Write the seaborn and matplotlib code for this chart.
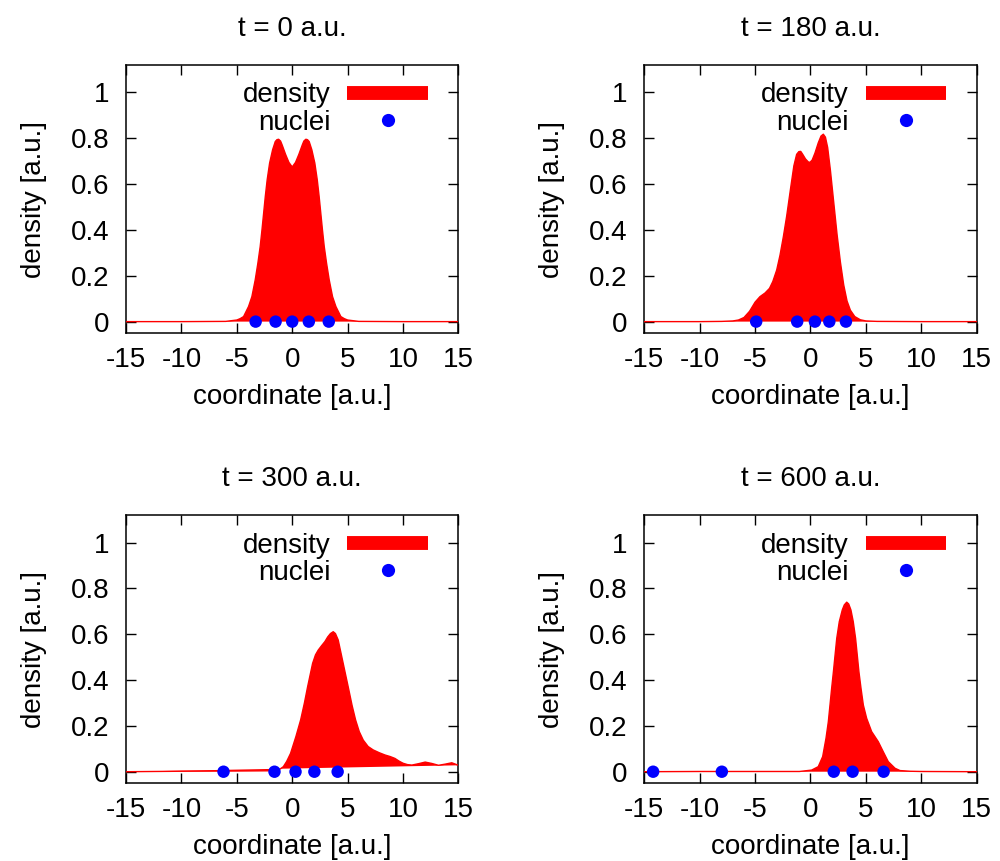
import matplotlib
matplotlib.use("Agg")
import matplotlib.pyplot as plt
from matplotlib.lines import Line2D
import seaborn as sns
import pandas as pd

# ---------------- data ----------------
titles = ["t = 0 a.u.", "t = 180 a.u.", "t = 300 a.u.", "t = 600 a.u."]

x_t0 = [-15, -10, -6, -5.0, -4.7, -4.39, -3.94, -3.64, -3.34, -3.1, -2.89, -2.73, -2.58, -2.43,
        -2.26, -2.04, -1.77, -1.53, -1.38, -1.23, -1.05, -0.9, -0.6, -0.3, 0.0,
        0.3, 0.6, 0.9, 1.05, 1.23, 1.38, 1.53, 1.77, 2.04, 2.26, 2.43, 2.58, 2.73, 2.89, 3.1,
        3.34, 3.64, 3.94, 4.39, 4.7, 5.0, 6, 10, 15]
d_t0 = [0.0, 0.0, 0.001, 0.007, 0.013, 0.022, 0.066, 0.109, 0.182, 0.255, 0.328, 0.40, 0.473, 0.546,
        0.619, 0.692, 0.75, 0.786, 0.794, 0.796, 0.788, 0.77, 0.73, 0.695, 0.675,
        0.695, 0.73, 0.77, 0.788, 0.796, 0.794, 0.786, 0.75, 0.692, 0.619, 0.546, 0.473, 0.40,
        0.328, 0.255, 0.182, 0.109, 0.066, 0.022, 0.013, 0.007, 0.001, 0.0, 0.0]
n_t0 = [-3.3, -1.5, 0.0, 1.5, 3.3]

x_t180 = [-15, -10, -8, -7, -6.5, -6.0, -5.5, -5.0, -4.56, -4.1, -3.7, -3.4, -3.05, -2.75, -2.45,
          -2.15, -1.8, -1.5, -1.25, -1.05, -0.88, -0.7, -0.45, -0.2, -0.05, 0.15, 0.4, 0.7, 0.95,
          1.16, 1.35, 1.55, 1.8, 2.1, 2.4, 2.7, 3.0, 3.3, 3.6, 4.0, 4.5, 5.0, 6, 10, 15]
d_t180 = [0.0, 0.0, 0.001, 0.003, 0.007, 0.018, 0.045, 0.085, 0.109, 0.125, 0.145, 0.175, 0.225,
          0.29, 0.37, 0.46, 0.58, 0.68, 0.73, 0.742, 0.743, 0.73, 0.71, 0.697, 0.695, 0.705, 0.735,
          0.78, 0.81, 0.818, 0.805, 0.76, 0.66, 0.52, 0.38, 0.26, 0.16, 0.09, 0.05, 0.022, 0.008,
          0.003, 0.001, 0.0, 0.0]
n_t180 = [-4.9, -1.2, 0.4, 1.7, 3.2]

x_t300 = [-15, -10, -5, -2, -1.2, -0.8, -0.5, -0.15, 0.33, 0.76, 1.1, 1.39, 1.84, 2.1, 2.35,
          2.65, 2.95, 3.2, 3.45, 3.7, 3.9, 4.15, 4.6, 5.05, 5.4, 5.72, 6.05, 6.41, 6.85, 7.31,
          7.85, 8.37, 8.85, 9.27, 9.65, 10.0, 10.4, 10.8, 11.4, 12.0, 12.6, 13.2, 13.8, 14.4, 15]
d_t300 = [0.0, 0.002, 0.003, 0.004, 0.008, 0.022, 0.045, 0.08, 0.153, 0.226, 0.30, 0.371, 0.473,
          0.51, 0.531, 0.55, 0.568, 0.588, 0.603, 0.611, 0.603, 0.575, 0.473, 0.371, 0.29, 0.226,
          0.175, 0.138, 0.11, 0.095, 0.083, 0.073, 0.066, 0.058, 0.046, 0.037, 0.031, 0.029,
          0.035, 0.042, 0.036, 0.028, 0.033, 0.039, 0.028]
n_t300 = [-6.2, -1.6, 0.3, 2.0, 4.1]

x_t600 = [-15, -10, -5, -1, 0.1, 0.7, 1.1, 1.4, 1.61, 1.76, 1.91, 2.07, 2.22, 2.37, 2.6, 2.87,
          3.05, 3.27, 3.45, 3.65, 3.86, 4.07, 4.22, 4.37, 4.56, 4.77, 5.07, 5.52, 6.12, 6.57,
          7.02, 7.63, 8.08, 9, 10, 15]
d_t600 = [0.0, 0.001, 0.001, 0.001, 0.007, 0.022, 0.066, 0.146, 0.218, 0.291, 0.364, 0.437, 0.51,
          0.582, 0.655, 0.706, 0.728, 0.74, 0.732, 0.706, 0.655, 0.582, 0.51, 0.437, 0.364, 0.291,
          0.233, 0.175, 0.131, 0.087, 0.044, 0.015, 0.005, 0.002, 0.001, 0.0]
n_t600 = [-14.2, -8.0, 2.1, 3.8, 6.6]

xticks = [-15, -10, -5, 0, 5, 10, 15]
xtick_labels = ["-15", "-10", "-5", "0", "5", "10", "15"]
yticks = [0, 0.2, 0.4, 0.6, 0.8, 1]
ytick_labels = ["0", "0.2", "0.4", "0.6", "0.8", "1"]

panels = [(x_t0, d_t0, n_t0), (x_t180, d_t180, n_t180),
          (x_t300, d_t300, n_t300), (x_t600, d_t600, n_t600)]

# ---------------- styling ----------------
sns.set_style("ticks")
plt.rcParams["font.family"] = ["Liberation Sans", "DejaVu Sans"]
plt.rcParams["text.color"] = "black"
plt.rcParams["axes.labelcolor"] = "black"
plt.rcParams["xtick.color"] = "black"
plt.rcParams["ytick.color"] = "black"
FS = 20

fig, axes = plt.subplots(2, 2, figsize=(10, 8.61), dpi=100)
fig.subplots_adjust(left=0.126, right=0.9767, top=0.9245, bottom=0.0904,
                    wspace=0.559, hspace=0.679)

for ax, title, (xs, ds, ns) in zip(axes.flat, titles, panels):
    df = pd.DataFrame({"x": xs, "d": ds})
    ax.fill(df["x"], df["d"], color="#ff0000", lw=0, zorder=2)
    sns.lineplot(data=df, x="x", y="d", ax=ax, color="#ff0000", lw=1.0,
                 zorder=3, sort=False, estimator=None)
    dn = pd.DataFrame({"x": ns, "y": [0.0] * len(ns)})
    sns.scatterplot(data=dn, x="x", y="y", ax=ax, color="#0000ff", s=80,
                    edgecolor="none", zorder=4)

    ax.set_xlim(-15, 15)
    ax.set_ylim(-0.05, 1.12)
    ax.set_xticks(xticks)
    ax.set_xticklabels(xtick_labels)
    ax.set_yticks(yticks)
    ax.set_yticklabels(ytick_labels)
    ax.tick_params(direction="in", length=7, width=1.0, top=True, right=True,
                   labelsize=FS, colors="black", pad=10)
    ax.tick_params(axis="y", pad=12)
    for sp in ax.spines.values():
        sp.set_visible(True)
        sp.set_linewidth(1.1)
        sp.set_color("black")
    ax.set_xlabel("coordinate [a.u.]", fontsize=FS, labelpad=8, color="black")
    ax.set_ylabel("density [a.u.]", fontsize=FS, labelpad=17, color="black")
    ax.set_title(title, fontsize=FS, pad=21, color="black")

    handles = [Line2D([], [], color="#ff0000", lw=10, solid_capstyle="butt"),
               Line2D([], [], color="#0000ff", marker="o", ls="none", markersize=9.5,
                      markeredgewidth=0)]
    leg = ax.legend(handles, ["density", "nuclei"], loc="upper right",
                    bbox_to_anchor=(0.908, 0.935), frameon=False, markerfirst=False,
                    fontsize=FS, handlelength=2.9, handletextpad=0.6, labelspacing=0.05,
                    borderpad=0, borderaxespad=0)
    for t in leg.get_texts():
        t.set_color("black")

fig.savefig("out.png", dpi=100)
